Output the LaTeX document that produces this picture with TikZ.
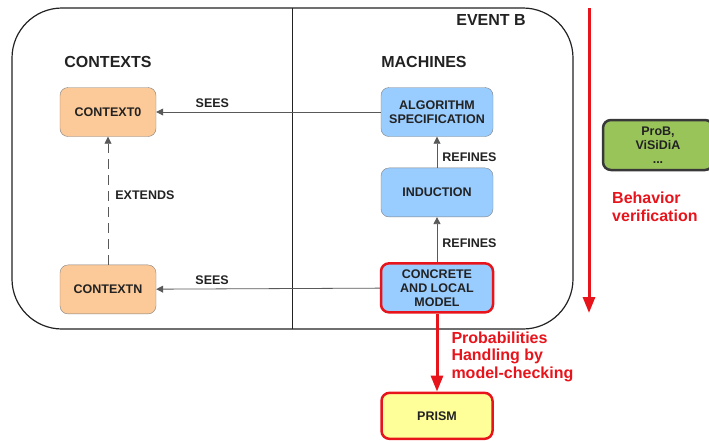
\documentclass[tikz,border=0pt]{standalone}
\usepackage{fontspec}
\setmainfont{Liberation Sans}
\usepackage{tikz}
\usetikzlibrary{positioning,arrows.meta}
\definecolor{ctxfill}{HTML}{FCC998}
\definecolor{machfill}{HTML}{99CCFF}
\definecolor{prismfill}{HTML}{FFFF99}
\definecolor{toolfill}{HTML}{99C45A}
\definecolor{alertred}{HTML}{E8141C}
\definecolor{ink}{HTML}{222222}

\begin{document}
\begin{tikzpicture}[x=1pt, y=-1pt,
  node distance=30pt,
  ctx/.style={draw=gray, rounded corners=8pt, fill=ctxfill, minimum width=96pt,
              minimum height=49pt, inner sep=2pt, text=ink, align=center,
              font=\bfseries\fontsize{12.5}{14}\selectfont},
  mach/.style={ctx, fill=machfill, minimum width=112pt},
  hot/.style={draw=alertred, line width=2.5pt},
  hdr/.style={text=ink, font=\bfseries\fontsize{16}{19}\selectfont},
  lbl/.style={text=ink, inner sep=1pt, font=\bfseries\fontsize{12.5}{14}\selectfont},
  redlbl/.style={text=alertred, align=left, inner sep=1pt,
                 font=\bfseries\fontsize{16}{17.5}\selectfont},
  arr/.style={-{Triangle[length=7pt,width=7pt]}, draw=gray!70!black, line width=0.8pt},
  redarr/.style={-{Triangle[length=16pt,width=12pt]}, draw=alertred, line width=3pt}]
\useasboundingbox (0,0) rectangle (709,440);
% event b frame
\draw[ink, line width=1.2pt, rounded corners=50pt] (12,8) rectangle (573,329);
\draw[ink, line width=1pt] (292,8) -- (292,329);
\node[hdr] (evb) at (491,20) {EVENT B};
\node[hdr] (ctxhdr) at (108,62) {CONTEXTS};
\node[hdr] (machhdr) at (424,62) {MACHINES};
% contexts
\node[ctx] (ctx0) at (108,112) {CONTEXT0};
\node[ctx, below=128pt of ctx0] (ctxn) {CONTEXTN};
% machines
\node[mach] (spec) at (437,112) {ALGORITHM\\SPECIFICATION};
\node[mach, below=31pt of spec] (induc) {INDUCTION};
\node[mach, hot, below=45pt of induc] (concr) {CONCRETE\\AND LOCAL\\MODEL};
\node[ctx, hot, fill=prismfill, minimum width=111pt, minimum height=46pt,
      below=78pt of concr] (prism) {PRISM};
\draw[arr] (spec) -- node[lbl, above=3pt, pos=0.75] {SEES} (ctx0);
\draw[arr] (concr) -- node[lbl, above=3pt, pos=0.75] {SEES} (ctxn);
\draw[arr, dash pattern=on 10pt off 6pt] (ctxn) -- node[lbl, right=6pt, pos=0.54] {EXTENDS} (ctx0);
\draw[arr] (induc) -- node[lbl, right=4pt, pos=0.35] {REFINES} (spec);
\draw[arr] (concr) -- node[lbl, right=4pt, pos=0.43] {REFINES} (induc);
\draw[redarr] (concr) -- node[redlbl, right=12pt, pos=0.55]
  {Probabilities\\Handling by\\model-checking} (prism);
% verification side
\coordinate (vtop) at (589,8);
\coordinate (vbot) at (589,313);
\draw[redarr] (vtop) -- (vbot);
\node[ctx, draw=ink!90, line width=2.5pt, fill=toolfill, minimum width=110pt,
      minimum height=50pt, font=\bfseries\fontsize{12.5}{14}\selectfont] (tools) at (658,145)
  {ProB,\\ViSiDiA\\...};
\node[redlbl, anchor=west] (behav) at (611,207) {Behavior\\verification};
\end{tikzpicture}
\end{document}
